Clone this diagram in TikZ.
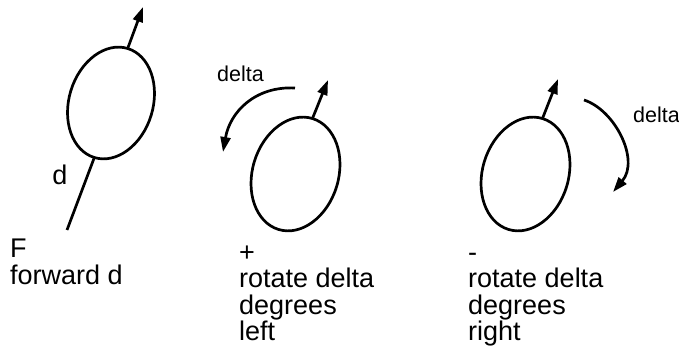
\documentclass[tikz,border=0pt]{standalone}
\usepackage{fontspec}
\setmainfont{Liberation Sans}
\usetikzlibrary{shapes.geometric,arrows.meta}
\begin{document}
\begin{tikzpicture}[x=1pt,y=1pt,
  turtle/.style={ellipse,draw,line width=2.7pt,inner sep=0pt,outer sep=0pt,rotate=-17},
  stroke/.style={line width=2.7pt},
  arr/.style={stroke,-{Triangle[length=15pt,width=10pt]}},
  big/.style={font=\fontsize{27}{27}\selectfont,inner sep=0pt,anchor=base west},
  small/.style={font=\fontsize{21.5}{21.5}\selectfont,inner sep=0pt,anchor=base west}]
\useasboundingbox (0,0) rectangle (679,-347);
% turtle 1: forward
\node[turtle, minimum width=84pt, minimum height=114pt] (t1) at (111,-103) {};
\coordinate (h1) at (143,-7);
\coordinate (tail1) at (67,-230);
\draw[arr] (t1.north) -- (h1);
\draw[stroke] (t1.south) -- (tail1);
\node[big, anchor=base] (dlab) at (60,-185) {d};
\node[big] (f1) at (10,-257) {F};
\node[big] (f2) at (10,-284) {forward d};
% turtle 2: rotate left
\node[turtle, minimum width=86pt, minimum height=116pt] (t2) at (295.5,-174) {};
\coordinate (h2) at (328,-80);
\draw[arr] (t2.north) -- (h2);
\coordinate (a2s) at (295,-88);
\coordinate (a2e) at (223,-152);
\draw[arr] (a2s) .. controls (255,-86) and (230,-112) .. (a2e);
\node[small] (dl2) at (217,-82) {delta};
\node[big] (p1) at (239,-261) {+};
\node[big] (p2) at (239,-287.5) {rotate delta};
\node[big] (p3) at (239,-314) {degrees};
\node[big] (p4) at (239,-340) {left};
% turtle 3: rotate right
\node[turtle, minimum width=86pt, minimum height=116pt] (t3) at (525.5,-174) {};
\coordinate (h3) at (558,-79);
\draw[arr] (t3.north) -- (h3);
\coordinate (a3s) at (584,-100);
\coordinate (a3e) at (613,-192);
\draw[arr] (a3s) .. controls (615,-110) and (640,-160) .. (a3e);
\node[small] (dl3) at (633,-123) {delta};
\node[big] (m1) at (468,-261) {-};
\node[big] (m2) at (468,-287.5) {rotate delta};
\node[big] (m3) at (468,-314) {degrees};
\node[big] (m4) at (468,-340) {right};
\end{tikzpicture}
\end{document}
